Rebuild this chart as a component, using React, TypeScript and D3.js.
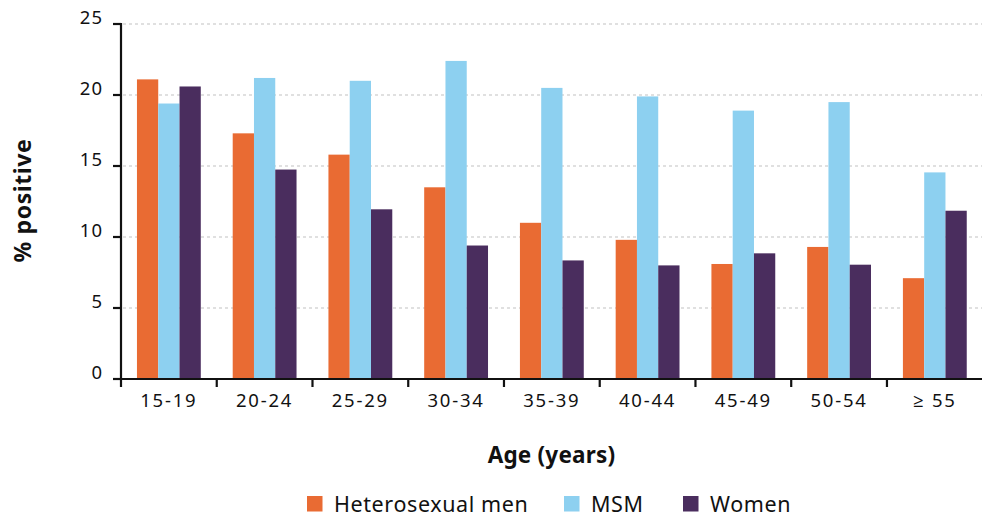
import * as React from 'react';
import * as d3 from 'd3';

const ageGroups = ['15-19', '20-24', '25-29', '30-34', '35-39', '40-44', '45-49', '50-54', '≥ 55'];
const seriesNames = ['Heterosexual men', 'MSM', 'Women'];
const heteroMen = [21.1, 17.3, 15.8, 13.5, 11.0, 9.8, 8.1, 9.3, 7.1];
const msm = [19.4, 21.2, 21.0, 22.4, 20.5, 19.9, 18.9, 19.5, 14.55];
const women = [20.6, 14.75, 11.95, 9.4, 8.35, 8.0, 8.85, 8.05, 11.85];
const yTicks = [0, 5, 10, 15, 20, 25];
const colors = ['#E96B33', '#8DD0F0', '#4A2D5E'];

const W = 982;
const H = 513;
const font = '"Noto Sans", "Open Sans", sans-serif';

export default function App() {
  const margin = { left: 121, top: 24, bottom: 379 };
  const x = d3.scaleBand<string>().domain(ageGroups).range([margin.left, W + 0.7]);
  const bw = x.bandwidth();
  const xs = d3.scaleBand<string>().domain(seriesNames).range([bw / 6, (bw * 5) / 6]);
  const y = d3.scaleLinear().domain([0, 25]).range([margin.bottom, margin.top]);
  const values = [heteroMen, msm, women];

  // legend square x positions
  const legendX = [307, 564, 683];

  return (
    <svg
      width={W}
      height={H}
      style={{ position: 'absolute', left: 0, top: 0, background: '#fff' }}
      fontFamily={font}
    >
      {/* gridlines */}
      {yTicks
        .filter((t) => t > 0)
        .map((t) => (
          <line
            key={'g' + t}
            x1={margin.left + 2}
            x2={W}
            y1={y(t)}
            y2={y(t)}
            stroke="#d6d6d6"
            strokeWidth={1.5}
            strokeDasharray="3,3"
          />
        ))}

      {/* bars */}
      {ageGroups.map((g, i) => (
        <g key={g} transform={`translate(${x(g)},0)`}>
          {seriesNames.map((s, j) => (
            <rect
              key={s}
              x={xs(s)}
              y={y(values[j][i])}
              width={xs.bandwidth()}
              height={y(0) - y(values[j][i])}
              fill={colors[j]}
            />
          ))}
        </g>
      ))}

      {/* y axis */}
      <line x1={margin.left} x2={margin.left} y1={y(25) - 1} y2={y(0) + 1} stroke="#111" strokeWidth={2.2} />
      {yTicks.map((t) => (
        <g key={'y' + t}>
          <line x1={margin.left - 8} x2={margin.left} y1={y(t)} y2={y(t)} stroke="#111" strokeWidth={2.2} />
          <text x={103} y={y(t)} textAnchor="end" fontSize={18.5} letterSpacing={1} fill="#111">
            {t}
          </text>
        </g>
      ))}

      {/* x axis */}
      <line x1={margin.left - 8} x2={W} y1={y(0)} y2={y(0)} stroke="#111" strokeWidth={2.2} />
      {ageGroups.map((g) => (
        <g key={'x' + g}>
          <line x1={x(g)} x2={x(g)} y1={y(0)} y2={y(0) + 8} stroke="#111" strokeWidth={2.2} />
          <text
            x={(x(g) as number) + bw / 2}
            y={407}
            textAnchor="middle"
            fontSize={18.5}
            letterSpacing={1.8}
            fill="#111"
          >
            {g}
          </text>
        </g>
      ))}

      {/* axis titles */}
      <text
        transform={`translate(31,${(y(0) + y(25)) / 2 - 1}) rotate(-90)`}
        textAnchor="middle"
        fontSize={23}
        fontWeight="bold"
        letterSpacing={0.6}
        fill="#111"
      >
        % positive
      </text>
      <text
        x={(margin.left + W) / 2}
        y={463}
        textAnchor="middle"
        fontSize={22.5}
        fontWeight="bold"
        letterSpacing={0.2}
        fill="#111"
      >
        Age (years)
      </text>

      {/* legend */}
      {seriesNames.map((s, j) => (
        <g key={'l' + s}>
          <rect x={legendX[j]} y={496} width={15.5} height={15.5} fill={colors[j]} />
          <text x={legendX[j] + 27} y={511.5} fontSize={21.5} letterSpacing={0.6} fill="#111">
            {s}
          </text>
        </g>
      ))}
    </svg>
  );
}
